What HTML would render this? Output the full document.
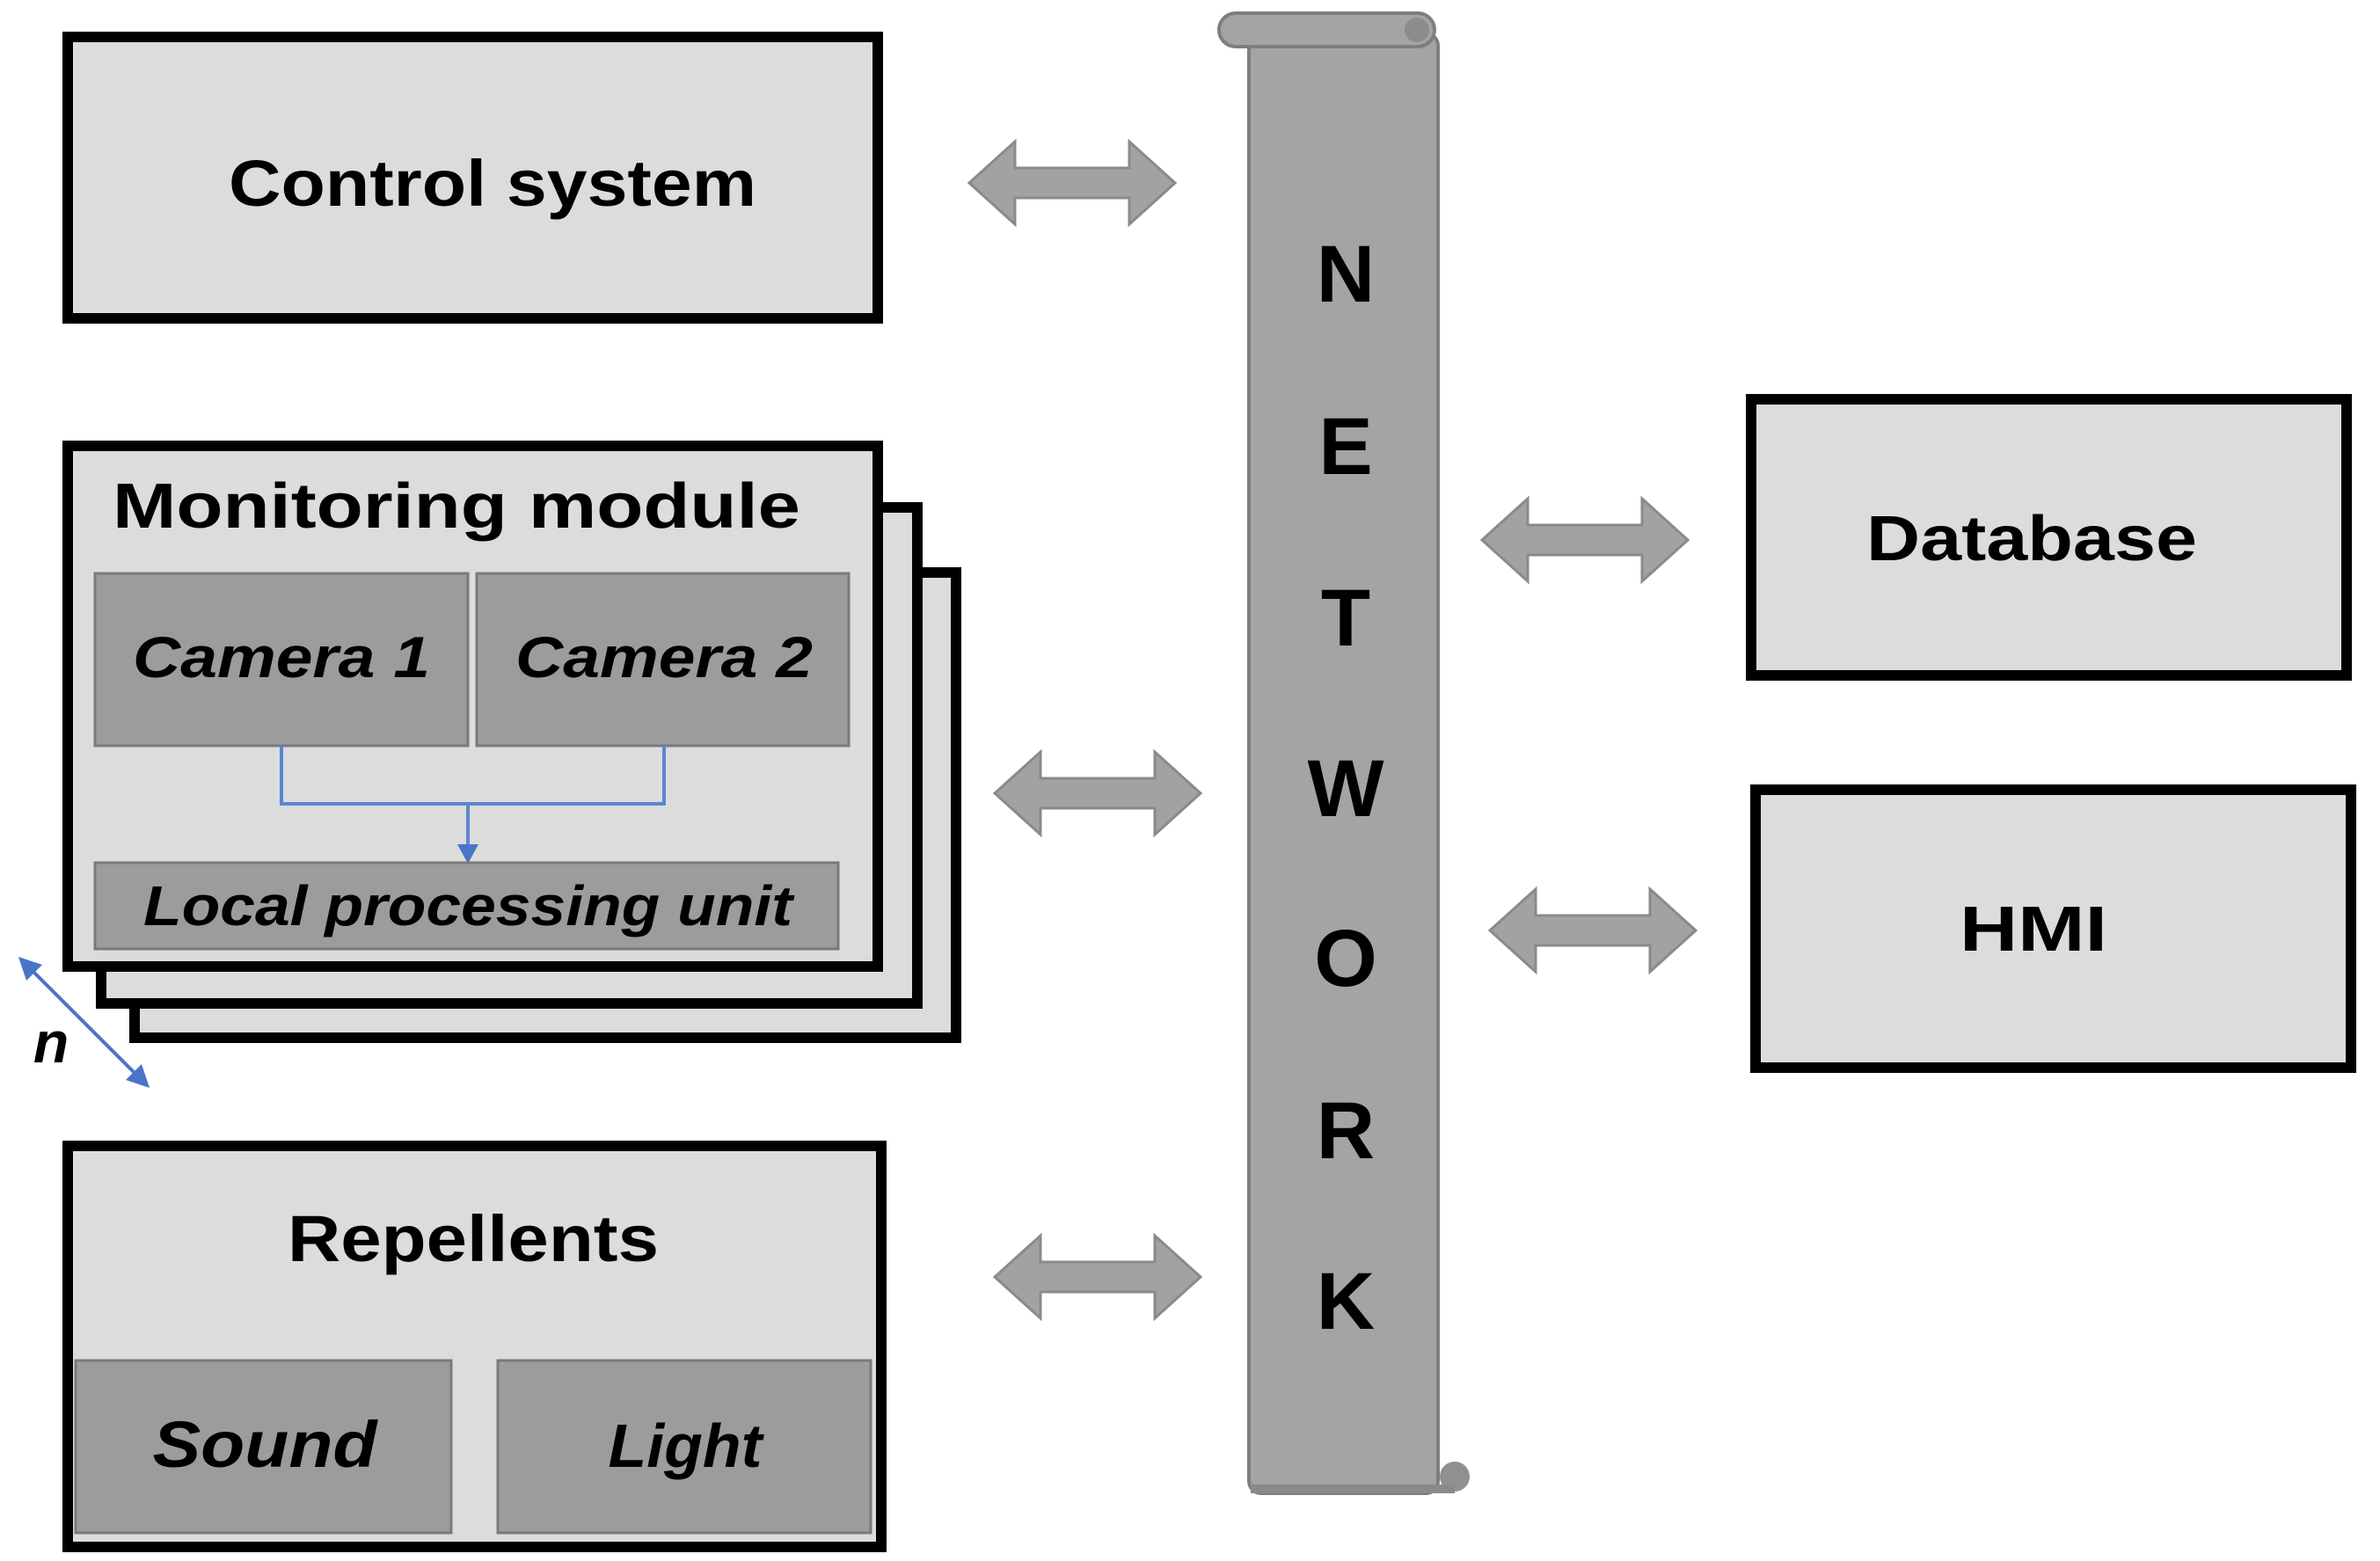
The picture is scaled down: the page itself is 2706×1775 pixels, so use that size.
<!DOCTYPE html>
<html><head><meta charset="utf-8"><style>html,body{margin:0;padding:0;background:#fff}svg{display:block}</style></head><body>
<svg xmlns="http://www.w3.org/2000/svg" width="2706" height="1775" viewBox="0 0 2706 1775" font-family="Liberation Sans, sans-serif">
<defs>
<g id="arr"><path d="M0,0 L52,-47 L52,-17 L182,-17 L182,-47 L234,0 L182,47 L182,17 L52,17 L52,47 Z" fill="#a2a2a2" stroke="#8a8a8a" stroke-width="3"/></g>
</defs>
<rect x="77" y="42" width="921" height="320" fill="#dcdcdc" stroke="#000" stroke-width="12"/>
<text x="560" y="234" font-size="74" font-weight="bold" text-anchor="middle" textLength="600" lengthAdjust="spacingAndGlyphs">Control system</text>
<rect x="153" y="651" width="934" height="529" fill="#dcdcdc" stroke="#000" stroke-width="12"/>
<rect x="115" y="577" width="928" height="564" fill="#dcdcdc" stroke="#000" stroke-width="12"/>
<rect x="77" y="507" width="921" height="592" fill="#dcdcdc" stroke="#000" stroke-width="12"/>
<text x="519" y="600" font-size="72" font-weight="bold" text-anchor="middle" textLength="782" lengthAdjust="spacingAndGlyphs">Monitoring module</text>
<rect x="108" y="652" width="424" height="196" fill="#9c9c9c" stroke="#7a7a7a" stroke-width="3"/>
<rect x="542" y="652" width="423" height="196" fill="#9c9c9c" stroke="#7a7a7a" stroke-width="3"/>
<text x="320" y="770" font-size="66" font-weight="bold" font-style="italic" text-anchor="middle" textLength="338" lengthAdjust="spacingAndGlyphs">Camera  1</text>
<text x="755" y="770" font-size="66" font-weight="bold" font-style="italic" text-anchor="middle" textLength="338" lengthAdjust="spacingAndGlyphs">Camera  2</text>
<path d="M320,848 V914 H755 V848 M532,914 V964" fill="none" stroke="#5b86d0" stroke-width="4"/>
<path d="M520,960 L544,960 L532,982 Z" fill="#4a74c8"/>
<rect x="108" y="981" width="845" height="98" fill="#9c9c9c" stroke="#7a7a7a" stroke-width="3"/>
<text x="532" y="1052" font-size="64" font-weight="bold" font-style="italic" text-anchor="middle" textLength="738" lengthAdjust="spacingAndGlyphs">Local processing  unit</text>
<line x1="30" y1="1097" x2="161" y2="1228" stroke="#4a74c8" stroke-width="4"/>
<path d="M21,1088 L48,1097 L30,1115 Z M170,1237 L143,1228 L161,1210 Z" fill="#4a74c8"/>
<text x="58" y="1208" font-size="66" font-weight="bold" font-style="italic" text-anchor="middle">n</text>
<rect x="77" y="1303" width="925" height="456" fill="#dcdcdc" stroke="#000" stroke-width="12"/>
<text x="538" y="1434" font-size="74" font-weight="bold" text-anchor="middle" textLength="422" lengthAdjust="spacingAndGlyphs">Repellents</text>
<rect x="86" y="1547" width="427" height="196" fill="#9c9c9c" stroke="#7a7a7a" stroke-width="3"/>
<rect x="566" y="1547" width="424" height="196" fill="#9c9c9c" stroke="#7a7a7a" stroke-width="3"/>
<text x="301" y="1668" font-size="74" font-weight="bold" font-style="italic" text-anchor="middle" textLength="255" lengthAdjust="spacingAndGlyphs">Sound</text>
<text x="779" y="1668" font-size="70" font-weight="bold" font-style="italic" text-anchor="middle" textLength="175" lengthAdjust="spacingAndGlyphs">Light</text>
<rect x="1991" y="454" width="677" height="314" fill="#dcdcdc" stroke="#000" stroke-width="12"/>
<text x="2310" y="637" font-size="72" font-weight="bold" text-anchor="middle" textLength="376" lengthAdjust="spacingAndGlyphs">Database</text>
<rect x="1996" y="898" width="677" height="316" fill="#dcdcdc" stroke="#000" stroke-width="12"/>
<text x="2312" y="1081" font-size="72" font-weight="bold" text-anchor="middle" textLength="168" lengthAdjust="spacingAndGlyphs">HMI</text>
<rect x="1420" y="38" width="215" height="1660" rx="14" fill="#a4a4a4" stroke="#7e7e7e" stroke-width="4"/>
<rect x="1386" y="15" width="245" height="38" rx="19" fill="#a4a4a4" stroke="#7e7e7e" stroke-width="4"/>
<circle cx="1611" cy="34" r="14" fill="#8c8c8c"/>
<circle cx="1654" cy="1679" r="17" fill="#909090"/>
<rect x="1422" y="1688" width="232" height="10" fill="#8a8a8a"/>
<g font-size="92" font-weight="bold" text-anchor="middle">
<text x="1530" y="343">N</text>
<text x="1530" y="539">E</text>
<text x="1530" y="734">T</text>
<text x="1530" y="928">W</text>
<text x="1530" y="1121">O</text>
<text x="1530" y="1317">R</text>
<text x="1530" y="1511">K</text>
</g>
<use href="#arr" transform="translate(1102,208)"/>
<use href="#arr" transform="translate(1131,902)"/>
<use href="#arr" transform="translate(1131,1452)"/>
<use href="#arr" transform="translate(1685,614)"/>
<use href="#arr" transform="translate(1694,1058)"/>
</svg>
</body></html>
